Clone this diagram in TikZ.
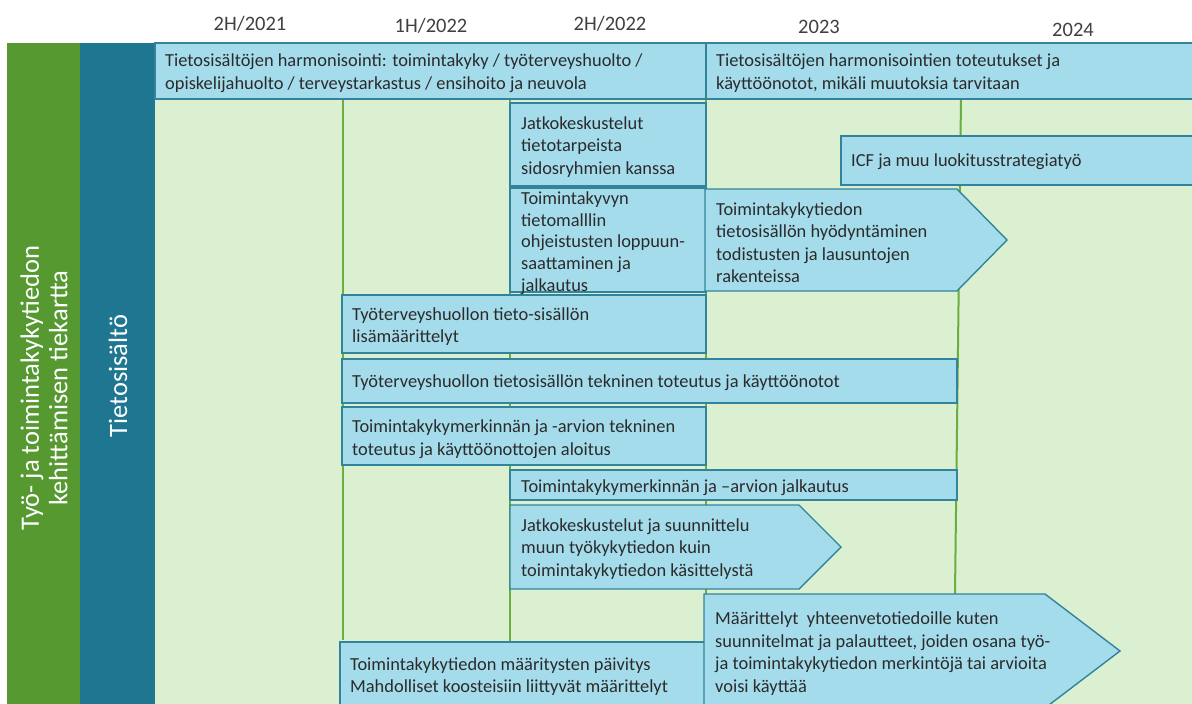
\documentclass[tikz,border=0pt]{standalone}
\usepackage{fontspec}
\newfontfamily\bodyfont{Carlito}
\definecolor{colgreen}{HTML}{559930}
\definecolor{colteal}{HTML}{1F7690}
\definecolor{bgreen}{HTML}{DAF0D0}
\definecolor{gridgreen}{HTML}{6AAE3F}
\definecolor{boxfill}{HTML}{A5DCEC}
\definecolor{boxedge}{HTML}{31849B}
\definecolor{ink}{HTML}{2B2B2B}
\definecolor{hdrink}{HTML}{404040}
\begin{document}
\begin{tikzpicture}[x=1pt,y=-1pt,
  bar/.style={fill=boxfill,draw=boxedge,line width=1.4pt},
  gridline/.style={draw=gridgreen,line width=2pt},
  lbl/.style={anchor=west,align=left,inner sep=0pt,text=ink,yshift=-2pt,
    font=\bodyfont\fontsize{18.4}{22.5}\selectfont},
  hdr/.style={inner sep=0pt,text=hdrink,yshift=-1.5pt,font=\bodyfont\fontsize{20.5}{24}\selectfont},
  side/.style={inner sep=0pt,text=white,rotate=90,align=center,
    font=\bodyfont\fontsize{26.5}{28.5}\selectfont}]
\useasboundingbox (0,0) rectangle (1192,704);
\fill[white] (0,0) rectangle (1192,704);
\begin{scope}
\clip (0,0) rectangle (1192,704);

% period headings
\node[hdr] (h1) at (250,22) {2H/2021};
\node[hdr] (h2) at (431,24) {1H/2022};
\node[hdr] (h3) at (610,22) {2H/2022};
\node[hdr] (h4) at (819,25) {2023};
\node[hdr] (h5) at (1073,28) {2024};

% side columns and timeline area
\fill[colgreen] (7,43) rectangle (80,704);
\fill[colteal] (80,43) rectangle (155,704);
\fill[bgreen] (155,99) rectangle (1192,704);
\node[side] (title) at (44,388) {Työ- ja toimintakykytiedon\\kehittämisen tiekartta};
\node[side] (row) at (118,376) {Tietosisältö};

% period separators
\draw[gridline] (343,99) -- (343,640);
\draw[gridline] (510,99) -- (510,642);
\draw[gridline] (706,99) -- (706,594);
\draw[gridline] (961,99) -- (955,594);

% top band
\draw[bar] (155,43) rectangle (706,99);
\node[lbl] (t1) at (165,71) {Tietosisältöjen harmonisointi: toimintakyky / työterveyshuolto /\\opiskelijahuolto / terveystarkastus / ensihoito ja neuvola};
\draw[bar] (706,43) rectangle (1200,99);
\node[lbl] (t2) at (716,71) {Tietosisältöjen harmonisointien toteutukset ja\\käyttöönotot, mikäli muutoksia tarvitaan};

% tasks
\draw[bar] (510,103) rectangle (706,186);
\node[lbl] (t3) at (521,145) {Jatkokeskustelut\\tietotarpeista\\sidosryhmien kanssa};

\draw[bar] (841,136) rectangle (1200,185);
\node[lbl] (t4) at (851,160) {ICF ja muu luokitusstrategiatyö};

\draw[bar] (510,188) rectangle (706,292);
\node[lbl,font=\bodyfont\fontsize{18.4}{21.7}\selectfont] (t5) at (521,241) {Toimintakyvyn\\tietomalllin\\ohjeistusten loppuun-\\saattaminen ja\\jalkautus};

\draw[bar] (705,189) -- (957,189) -- (1007,240) -- (957,291) -- (705,291) -- cycle;
\node[lbl] (t6) at (716,240.5) {Toimintakykytiedon\\tietosisällön hyödyntäminen\\todistusten ja lausuntojen\\rakenteissa};

\draw[bar] (342,295) rectangle (706,353);
\node[lbl] (t7) at (352,324.5) {Työterveyshuollon tieto-sisällön\\lisämäärittelyt};

\draw[bar] (342,359) rectangle (957,403);
\node[lbl] (t8) at (352,381) {Työterveyshuollon tietosisällön tekninen toteutus ja käyttöönotot};

\draw[bar] (342,407) rectangle (706,465);
\node[lbl] (t9) at (352,437) {Toimintakykymerkinnän ja -arvion tekninen\\toteutus ja käyttöönottojen aloitus};

\draw[bar] (510,470) rectangle (957,500);
\node[lbl] (t10) at (521,486) {Toimintakykymerkinnän ja –arvion jalkautus};

\draw[bar] (510,505) -- (799,505) -- (841,547) -- (799,589) -- (510,589) -- cycle;
\node[lbl] (t11) at (521,547) {Jatkokeskustelut ja suunnittelu\\muun työkykytiedon kuin\\toimintakykytiedon käsittelystä};

\draw[bar] (340,642) rectangle (705,720);
\node[lbl] (t12) at (350,674.5) {Toimintakykytiedon määritysten päivitys\\Mahdolliset koosteisiin liittyvät määrittelyt};

\draw[bar] (704,594) -- (1045,594) -- (1120,651) -- (1045,708) -- (704,708) -- cycle;
\node[lbl] (t13) at (715,651.5) {Määrittelyt\ \ yhteenvetotiedoille kuten\\suunnitelmat ja palautteet, joiden osana työ-\\ja toimintakykytiedon merkintöjä tai arvioita\\voisi käyttää};
\end{scope}
\end{tikzpicture}
\end{document}
